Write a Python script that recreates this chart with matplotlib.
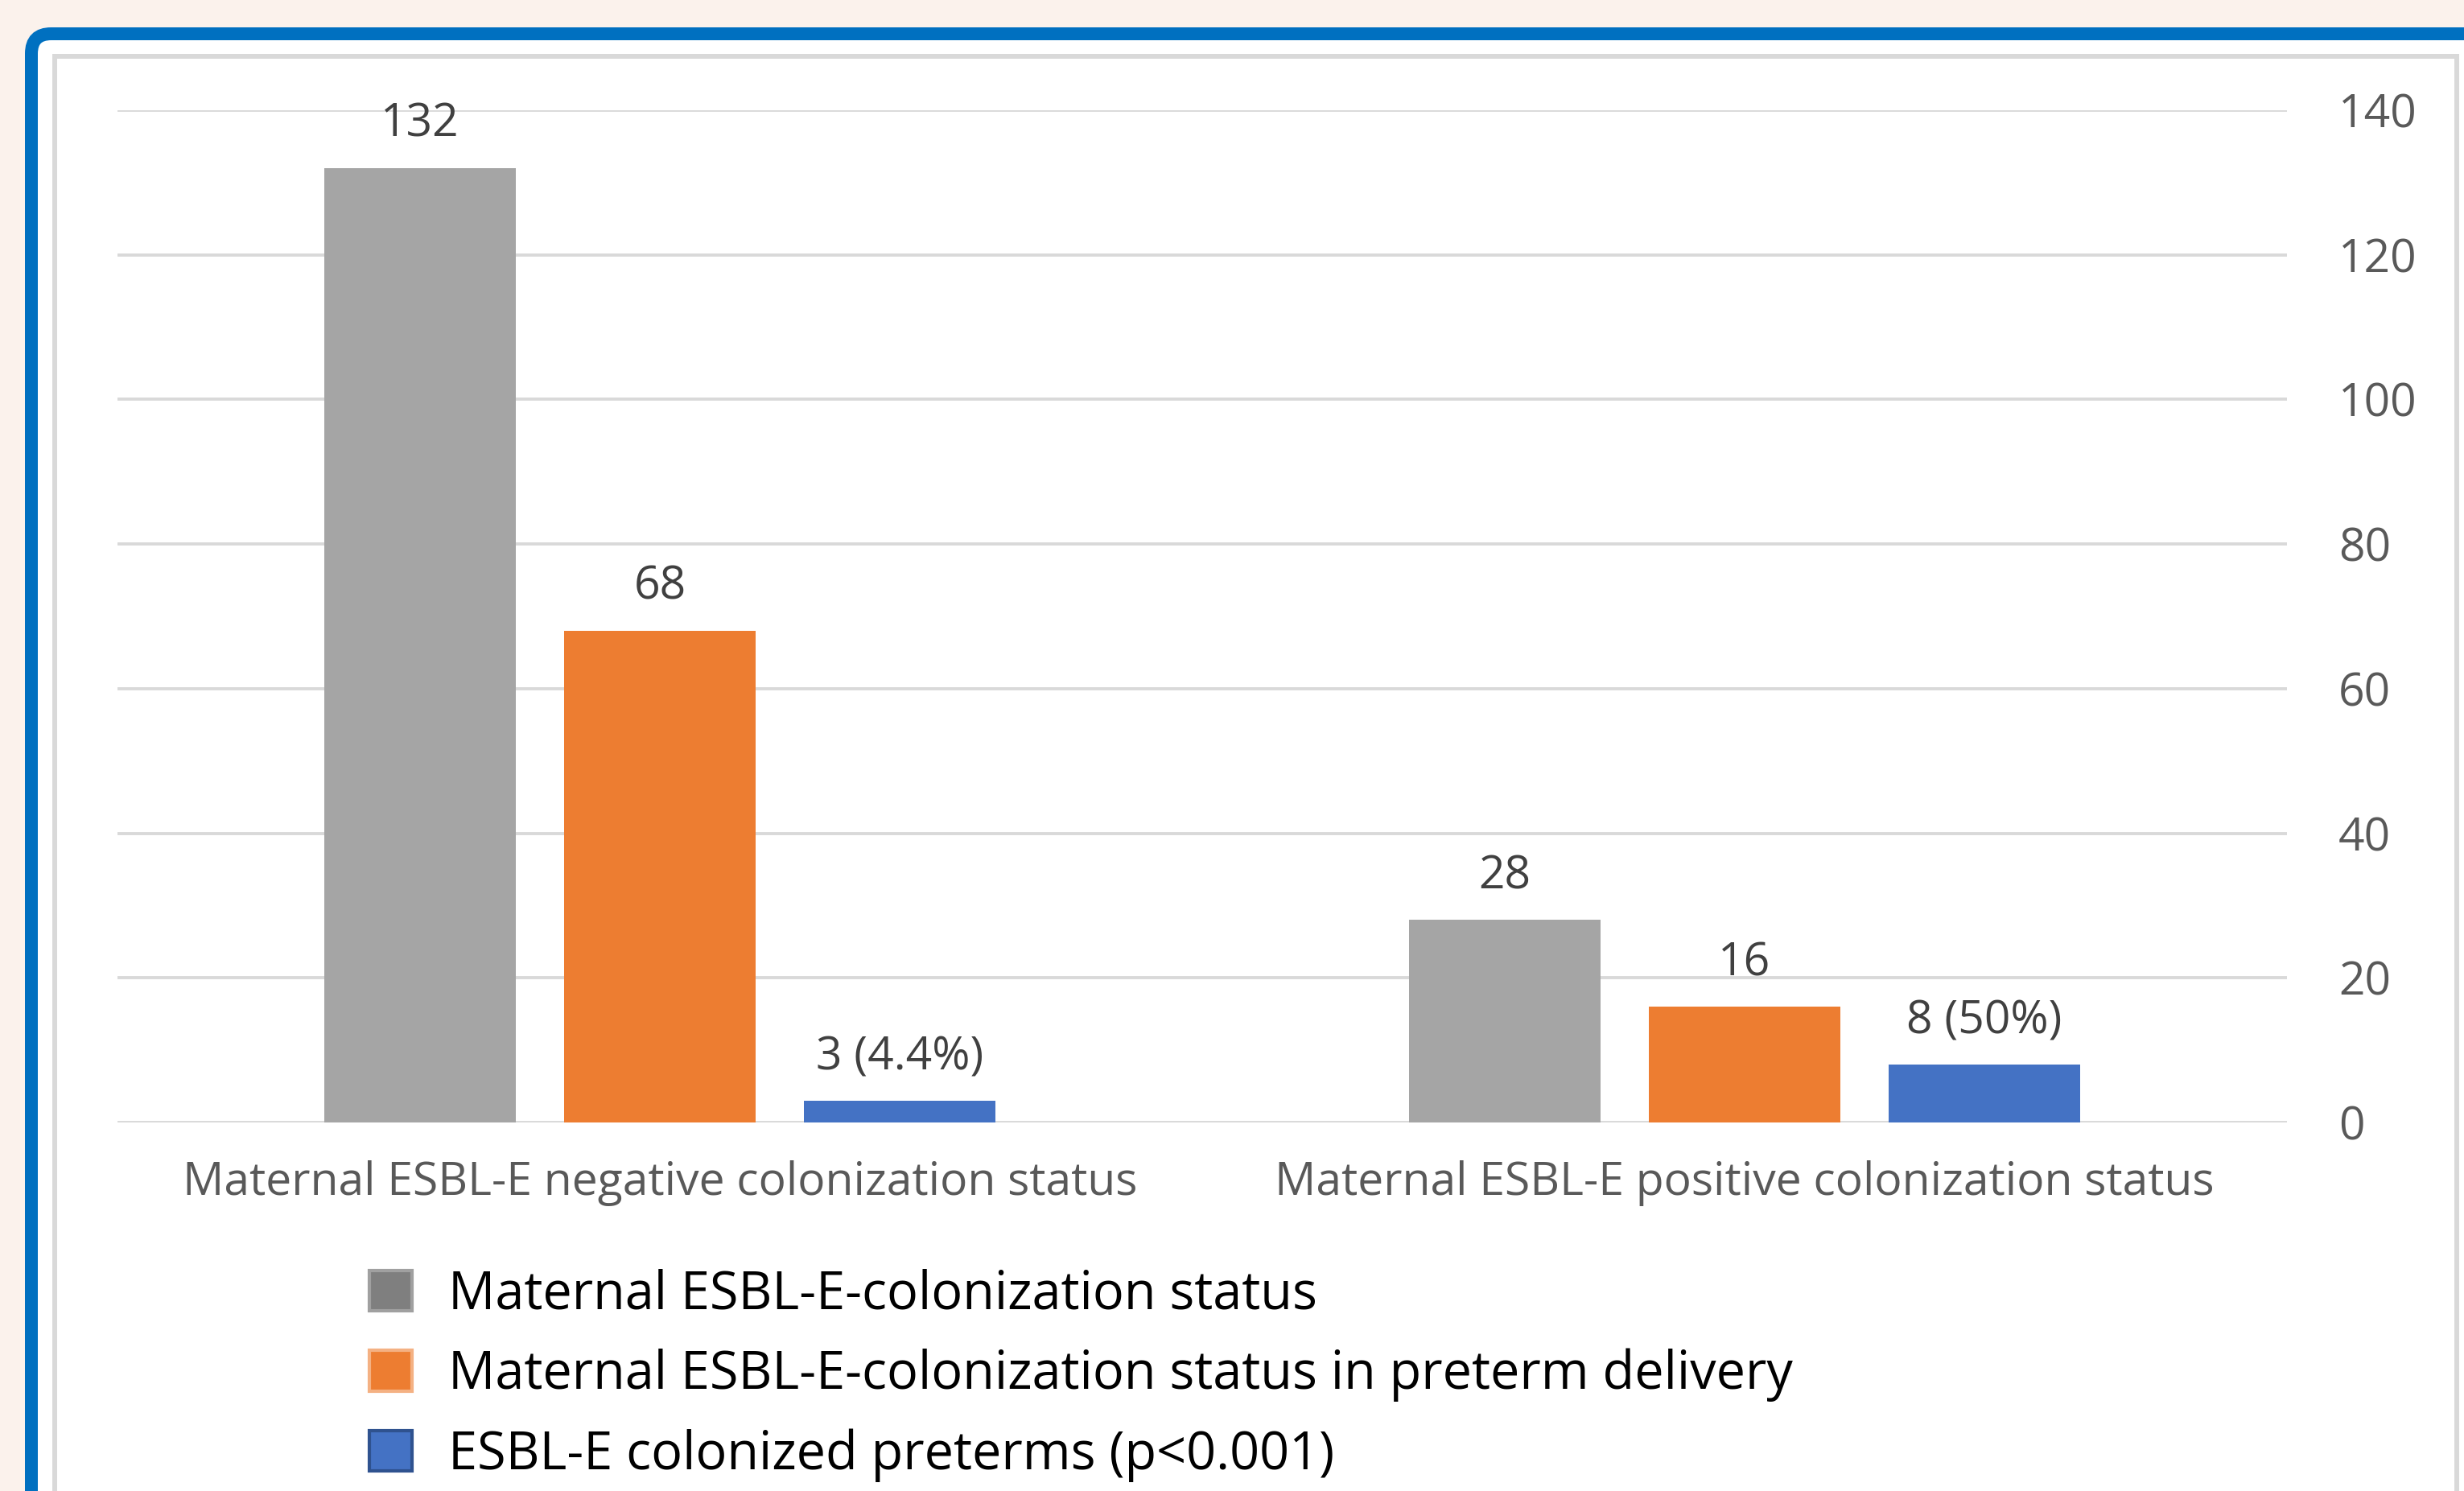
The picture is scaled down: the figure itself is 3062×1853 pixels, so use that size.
import matplotlib
matplotlib.use("Agg")
import matplotlib.pyplot as plt
from matplotlib.patches import FancyBboxPatch, Rectangle, Patch

# ---- data ----
categories = [
    "Maternal ESBL-E negative colonization status",
    "Maternal ESBL-E positive colonization status",
]
series_names = [
    "Maternal ESBL-E-colonization status",
    "Maternal ESBL-E-colonization status in preterm delivery",
    "ESBL-E colonized preterms (p<0.001)",
]
colonization = [132, 28]
preterm_delivery = [68, 16]
colonized_preterms = [3, 8]
colonized_labels = ["3 (4.4%)", "8 (50%)"]
y_ticks = [0, 20, 40, 60, 80, 100, 120, 140]

# ---- style ----
W, H, DPI = 3062, 1853, 200
plt.rcParams["font.family"] = ["Open Sans", "DejaVu Sans"]
bar_colors = ["#A5A5A5", "#ED7D31", "#4472C4"]
legend_faces = ["#7F7F7F", "#ED7D31", "#4472C4"]
legend_edges = ["#A0A0A0", "#F4B183", "#2F528F"]
grid_color = "#D9D9D9"
label_size = 20.5

fig = plt.figure(figsize=(W / DPI, H / DPI), dpi=DPI, facecolor="#FBF2EC")


def fx(px):
    return px / W


def fy(py):
    return 1 - py / H


# blue outer frame with rounded corner
lw_blue = 16 / DPI * 72
frame = FancyBboxPatch(
    (fx(39), fy(H + 60)), fx(W + 60 - 39), fy(42) - fy(H + 60),
    boxstyle="round,pad=0,rounding_size=0.008",
    transform=fig.transFigure, facecolor="white", edgecolor="#0070C0",
    linewidth=lw_blue, zorder=-3, mutation_aspect=W / H,
)
fig.patches.append(frame)

# thin grey inner chart-area border
inner = Rectangle(
    (fx(68), fy(H + 40)), fx(3052.5 - 68), fy(69.5) - fy(H + 40),
    transform=fig.transFigure, facecolor="none", edgecolor=grid_color,
    linewidth=6 / DPI * 72, zorder=-2,
)
fig.patches.append(inner)

# ---- axes ----
ax = fig.add_axes([fx(146), fy(1395), fx(2842 - 146), fy(137) - fy(1395)])
ax.set_facecolor("none")
ax.set_zorder(1)

x = list(range(len(categories)))
step, width = 0.221, 0.176
series = [colonization, preterm_delivery, colonized_preterms]
value_texts = [
    [str(v) for v in colonization],
    [str(v) for v in preterm_delivery],
    colonized_labels,
]
for i, (vals, col, texts) in enumerate(zip(series, bar_colors, value_texts)):
    pos = [xi + (i - 1) * step for xi in x]
    bars = ax.bar(pos, vals, width=width, color=col, zorder=3)
    for b, t in zip(bars, texts):
        ax.annotate(t, (b.get_x() + b.get_width() / 2, b.get_height()),
                    xytext=(0, 9), textcoords="offset points",
                    ha="center", va="bottom", fontsize=label_size,
                    color="#404040")

ax.set_xlim(-0.5, len(categories) - 0.5)
ax.set_ylim(0, 140)
ax.set_yticks(y_ticks)
ax.yaxis.tick_right()
ax.tick_params(axis="y", length=0, pad=23, labelsize=label_size,
               labelcolor="#595959")
ax.set_xticks(x)
ax.set_xticklabels(categories)
ax.tick_params(axis="x", length=0, pad=17, labelsize=label_size,
               labelcolor="#595959")
ax.grid(axis="y", color=grid_color, linewidth=1.4, zorder=0)
ax.set_axisbelow(True)
for s in ax.spines.values():
    s.set_visible(False)

# ---- legend ----
handles = [Patch(facecolor=f, edgecolor=e, linewidth=1.5)
           for f, e in zip(legend_faces, legend_edges)]
leg = fig.legend(handles, series_names, loc="center left",
                 bbox_to_anchor=(fx(459), fy(1709)), frameon=False,
                 fontsize=23.3, handlelength=0.82, handleheight=0.82,
                 handletextpad=0.69, labelspacing=0.51, borderpad=0,
                 borderaxespad=0, labelcolor="black")
leg.set_zorder(2)

fig.savefig("out.png", dpi=DPI, facecolor=fig.get_facecolor())
